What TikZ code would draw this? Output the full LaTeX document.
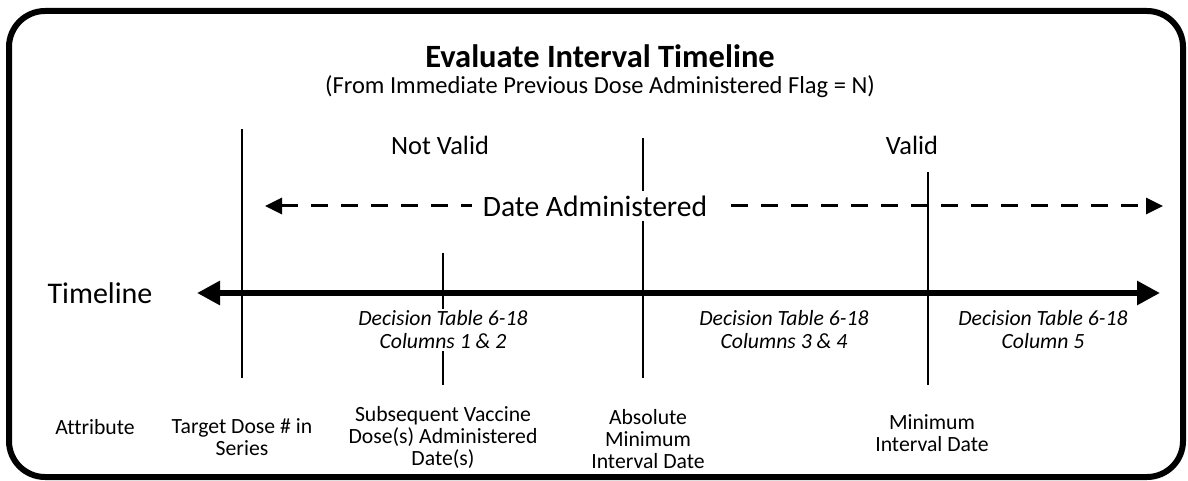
\documentclass[tikz,border=0pt]{standalone}
\usepackage{fontspec}
\setmainfont{Carlito}[Ligatures=NoCommon]
\usetikzlibrary{arrows.meta}
\newcommand{\fsz}[2]{\fontsize{#1}{#2}\selectfont}
\tikzset{
	lbl/.style={align=center, inner sep=1pt, font=\fsz{21.7}{22}},
	dt/.style={align=center, inner sep=2pt, fill=white, font=\fsz{21.7}{23}\itshape},
	tick/.style={line width=2pt},
}
\begin{document}
\begin{tikzpicture}[x=1pt, y=-1pt]
	\useasboundingbox (0,0) rectangle (1188,481);

	% frame
	\draw[line width=6pt, rounded corners=36pt] (9,11) rectangle (1183,477);

	% headings
	\node[anchor=base, inner sep=0pt, font=\fsz{32.5}{34}\bfseries] (title) at (600,68) {Evaluate Interval Timeline};
	\node[anchor=base, inner sep=0pt, font=\fsz{24.5}{25}] (subtitle) at (600,94) {(From Immediate Previous Dose Administered Flag = N)};
	\node[font=\fsz{26.4}{28}] (notvalid) at (440,145) {Not Valid};
	\node[font=\fsz{26.4}{28}] (valid) at (912,145) {Valid};

	% vertical markers
	\coordinate (m1t) at (242,129); \coordinate (m1b) at (242,378);
	\coordinate (m2t) at (443,253); \coordinate (m2b) at (443,385);
	\coordinate (m3t) at (643,138); \coordinate (m3b) at (643,378);
	\coordinate (m4t) at (928,172); \coordinate (m4b) at (928,385);
	\draw[tick] (m1t) -- (m1b);
	\draw[tick] (m2t) -- (m2b);
	\draw[tick] (m3t) -- (m3b);
	\draw[tick] (m4t) -- (m4b);

	% date administered
	\coordinate (dl) at (265,206);
	\coordinate (dr) at (1163,206);
	\draw[{Triangle[length=17pt,width=16pt]}-{Triangle[length=17pt,width=16pt]}, line width=3pt, dash pattern=on 17pt off 13pt] (dl) -- (dr);
	\node[fill=white, inner sep=0pt, minimum height=30pt, minimum width=246pt, font=\fsz{29.6}{30}] (dateadm) at (595,206) {Date Administered};

	% axis
	\node[font=\fsz{30}{31}] (timeline) at (100,293) {Timeline};
	\coordinate (al) at (197,293);
	\coordinate (ar) at (1160,293);
	\draw[{Triangle[length=23pt,width=23pt]}-{Triangle[length=23pt,width=23pt]}, line width=6pt] (al) -- (ar);

	% decision tables
	\node[dt] (dt12) at (443,330) {Decision Table 6-18\\Columns 1 \& 2};
	\node[dt] (dt34) at (784,330) {Decision Table 6-18\\Columns 3 \& 4};
	\node[dt] (dt5) at (1043,330) {Decision Table 6-18\\Column 5};

	% attributes
	\node[lbl] (attr) at (95,427) {Attribute};
	\node[lbl] (target) at (242,437) {Target Dose \# in\\Series};
	\node[lbl] (subseq) at (443,437) {Subsequent Vaccine\\Dose(s) Administered\\Date(s)};
	\node[lbl] (absmin) at (648,439) {Absolute\\Minimum\\Interval Date};
	\node[lbl] (minint) at (932,433) {Minimum\\Interval Date};
\end{tikzpicture}
\end{document}
